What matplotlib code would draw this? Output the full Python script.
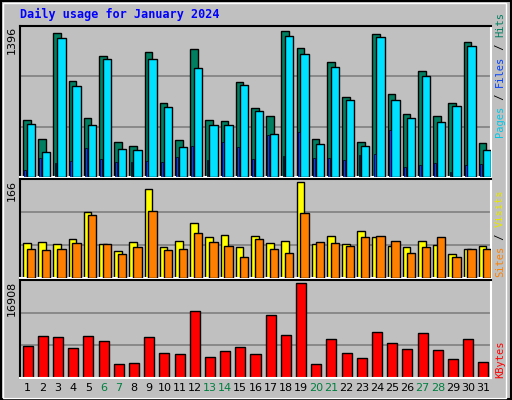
import matplotlib
matplotlib.use("Agg")
import matplotlib.pyplot as plt
import numpy as np

days = list(range(1, 32))
weekend = [6, 7, 13, 14, 20, 21, 27, 28]
hits = [549, 366, 1380, 915, 568, 1156, 337, 299, 1194, 712, 356, 1223, 549, 539, 905,
        665, 587, 1396, 1233, 366, 1098, 770, 337, 1367, 790, 607, 1011, 587, 712, 1290, 327]
files = [510, 241, 1330, 867, 501, 1127, 270, 260, 1127, 674, 289, 1040, 501, 501, 876,
         636, 414, 1350, 1175, 318, 1050, 732, 299, 1339, 732, 568, 963, 530, 684, 1252, 260]
pages = [67, 183, 135, 154, 279, 173, 144, 144, 154, 144, 193, 299, 164, 337, 289,
         173, 400, 202, 433, 183, 183, 164, 212, 221, 453, 96, 116, 135, 48, 116, 125]
visits = [60, 62, 59, 67, 114, 59, 46, 62, 155, 53, 64, 96, 71, 75, 53,
          73, 60, 64, 166, 59, 73, 59, 82, 71, 55, 53, 64, 57, 42, 51, 55]
sites = [51, 48, 51, 60, 109, 59, 42, 53, 116, 48, 50, 78, 62, 55, 37,
         67, 51, 44, 112, 62, 60, 55, 71, 73, 64, 44, 53, 71, 37, 51, 50]
kbytes = [5800, 7470, 7290, 5440, 7470, 6550, 2480, 2660, 7290, 4510, 4330, 11910, 3770, 4880, 5620,
          4330, 11170, 7660, 16908, 2480, 6920, 4510, 3590, 8210, 6180, 5250, 8030, 5070, 3400, 6920, 2850]

W, H = 512, 400
fig = plt.figure(figsize=(W/100, H/100), dpi=100, facecolor="#c0c0c0")
bg = "#c0c0c0"
x = np.array(days)

def mkax(top, bottom):
    ax = fig.add_axes([20/W, 1-bottom/H, 471/W, (bottom-top)/H], facecolor=bg)
    ax.set_xlim(0.5, 31.5)
    ax.set_xticks([]); ax.set_yticks([])
    for s in ["left", "top"]:
        ax.spines[s].set_color("black")
    for s in ["right", "bottom"]:
        ax.spines[s].set_color("white")
    for sp in ax.spines.values():
        sp.set_linewidth(1.5)
    return ax

ek = dict(edgecolor="black", linewidth=1.0)

ax1 = mkax(26, 177)
m1 = max(hits) * 1.035
ax1.set_ylim(0, m1)
for f in (1/3, 2/3):
    ax1.axhline(m1 * f, color="#808080", lw=1.2, zorder=0)
ax1.bar(x - 0.3, hits, width=0.5, align="edge", color="#008060", **ek, zorder=2)
ax1.bar(x - 0.05, files, width=0.55, align="edge", color="#00e0ff", **ek, zorder=3)
ax1.bar(x - 0.22, pages, width=0.12, align="edge", color="#0040ff", edgecolor="black", linewidth=0.5, zorder=4)

ax2 = mkax(179, 278)
m2 = max(visits) * 1.035
ax2.set_ylim(0, m2)
for f in (1/3, 2/3):
    ax2.axhline(m2 * f, color="#808080", lw=1.2, zorder=0)
ax2.bar(x - 0.3, visits, width=0.5, align="edge", color="#ffff00", **ek, zorder=2)
ax2.bar(x - 0.05, sites, width=0.55, align="edge", color="#ff8000", **ek, zorder=3)

ax3 = mkax(280, 378)
m3 = max(kbytes) * 1.035
ax3.set_ylim(0, m3)
for f in (1/3, 2/3):
    ax3.axhline(m3 * f, color="#808080", lw=1.2, zorder=0)
ax3.bar(x - 0.33, kbytes, width=0.66, align="edge", color="#ff0000", **ek, zorder=2)

ff = "DejaVu Sans Mono"
for d in days:
    fig.text((20 + (d - 0.5) * 471/31)/W, 1-388/H, str(d), ha="center", va="center",
             fontsize=8, family="DejaVu Sans",
             color="#008040" if d in weekend else "black")

fig.text(20/W, 1-14/H, "Daily usage for January 2024", color="#0000ff", fontsize=8.5,
         fontweight="bold", family=ff, ha="left", va="center")

for lab, yt in (("1396", 26), ("166", 180), ("16908", 281)):
    fig.text(12/W, 1-yt/H, lab, rotation=90, ha="center", va="top", fontsize=8, family="DejaVu Sans")

fig.canvas.draw()
renderer = fig.canvas.get_renderer()

def vlabel(parts, ybottom):
    y = ybottom
    for txt, col in parts:
        t = fig.text(500/W, 1-y/H, txt, rotation=90, ha="center", va="bottom",
                     fontsize=7.5, family=ff, color=col)
        bb = t.get_window_extent(renderer)
        y -= bb.height

vlabel([("Pages", "#00c8e8"), (" / ", "black"), ("Files", "#0040ff"), (" / ", "black"), ("Hits", "#008060")], 137)
vlabel([("Sites", "#ff8000"), (" / ", "black"), ("Visits", "#e8e800")], 277)
vlabel([("KBytes", "#ff0000")], 378)

fig.add_artist(plt.Rectangle((0.002, 0.002), 0.996, 0.996, transform=fig.transFigure,
                             fill=False, edgecolor="black", lw=1.5))
fig.add_artist(plt.Rectangle((0.006, 0.006), 0.982, 0.986, transform=fig.transFigure,
                             fill=False, edgecolor="white", lw=1))

fig.savefig("out.png", dpi=100, facecolor=fig.get_facecolor())
